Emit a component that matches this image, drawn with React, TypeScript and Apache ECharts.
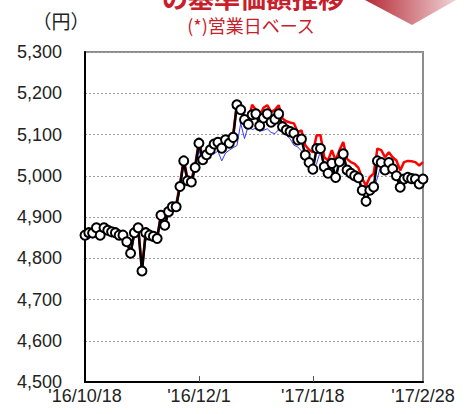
import React, { useEffect, useRef } from "react";
import * as echarts from "echarts";

const dates: string[] = [
  "'16/10/18", "'16/10/19", "'16/10/20", "'16/10/21", "'16/10/24", "'16/10/25", "'16/10/26", "'16/10/27", "'16/10/28", "'16/10/31",
  "'16/11/1", "'16/11/2", "'16/11/4", "'16/11/7", "'16/11/8", "'16/11/9", "'16/11/10", "'16/11/11", "'16/11/14", "'16/11/15",
  "'16/11/16", "'16/11/17", "'16/11/18", "'16/11/21", "'16/11/22", "'16/11/24", "'16/11/25", "'16/11/28", "'16/11/29", "'16/11/30",
  "'16/12/1", "'16/12/2", "'16/12/5", "'16/12/6", "'16/12/7", "'16/12/8", "'16/12/9", "'16/12/12", "'16/12/13", "'16/12/14",
  "'16/12/15", "'16/12/16", "'16/12/19", "'16/12/20", "'16/12/21", "'16/12/22", "'16/12/26", "'16/12/27", "'16/12/28", "'16/12/29",
  "'16/12/30", "'17/1/4", "'17/1/5", "'17/1/6", "'17/1/10", "'17/1/11", "'17/1/12", "'17/1/13", "'17/1/16", "'17/1/17",
  "'17/1/18", "'17/1/19", "'17/1/20", "'17/1/23", "'17/1/24", "'17/1/25", "'17/1/26", "'17/1/27", "'17/1/30", "'17/1/31",
  "'17/2/1", "'17/2/2", "'17/2/3", "'17/2/6", "'17/2/7", "'17/2/8", "'17/2/9", "'17/2/10", "'17/2/13", "'17/2/14",
  "'17/2/15", "'17/2/16", "'17/2/17", "'17/2/20", "'17/2/21", "'17/2/22", "'17/2/23", "'17/2/24", "'17/2/27", "'17/2/28",
];

const tickLabels: string[] = ["'16/10/18", "'16/12/1", "'17/1/18", "'17/2/28"];

const basePrice: number[] = [
  4856, 4862, 4861, 4874, 4856, 4874, 4868, 4864, 4862, 4856,
  4856, 4840, 4812, 4862, 4874, 4769, 4862, 4856, 4853, 4848,
  4904, 4880, 4913, 4925, 4925, 4974, 5036, 4988, 4985, 5020,
  5079, 5039, 5051, 5063, 5077, 5081, 5067, 5087, 5079, 5093,
  5172, 5160, 5136, 5125, 5148, 5150, 5121, 5140, 5150, 5130,
  5137, 5150, 5119, 5111, 5107, 5103, 5087, 5089, 5050, 5032,
  5016, 5066, 5066, 5022, 5006, 5030, 4996, 5034, 5053, 5014,
  5006, 5000, 4995, 4965, 4938, 4965, 4973, 5036, 5032, 5014,
  5032, 5017, 5000, 4972, 4992, 4996, 4993, 4992, 4980, 4992,
];

const redSeries: number[] = [
  4858, 4864, 4863, 4876, 4858, 4876, 4870, 4866, 4864, 4858,
  4858, 4842, 4814, 4864, 4876, 4771, 4864, 4858, 4855, 4850,
  4906, 4884, 4917, 4929, 4930, 4980, 5040, 4993, 4990, 5025,
  5084, 5044, 5056, 5068, 5082, 5086, 5072, 5092, 5085, 5099,
  5176, 5165, 5142, 5132, 5172, 5160, 5145, 5165, 5171, 5155,
  5160, 5171, 5139, 5132, 5129, 5127, 5106, 5110, 5074, 5063,
  5057, 5098, 5098, 5045, 5037, 5062, 5037, 5062, 5082, 5041,
  5033, 5029, 5019, 4993, 4976, 4997, 5005, 5066, 5062, 5045,
  5057, 5045, 5037, 5013, 5033, 5036, 5035, 5033, 5025, 5033,
];

const blueSeries: number[] = [
  4850, 4846, 4855, 4866, 4850, 4868, 4862, 4860, 4858, 4862,
  4852, 4836, 4810, 4855, 4868, 4772, 4843, 4850, 4848, 4845,
  4895, 4873, 4905, 4915, 4918, 4965, 5025, 4980, 4978, 5010,
  5062, 5030, 5040, 5048, 5053, 5060, 5036, 5055, 5062, 5068,
  5073, 5127, 5090, 5121, 5112, 5115, 5108, 5110, 5114, 5105,
  5102, 5112, 5106, 5098, 5090, 5074, 5070, 5060, 5049, 5030,
  5012, 5030, 5060, 5015, 5000, 5022, 4990, 5028, 5045, 5008,
  5000, 4995, 4990, 4960, 4932, 4958, 4968, 4995, 5028, 5010,
  5028, 5012, 4996, 4968, 4988, 4992, 4989, 4988, 4976, 4988,
];

const titleText = "の基準価額推移";
const subTitleText = "(*)営業日ベース";
const unitText = "（円）";

export default function App() {
  const ref = useRef<HTMLDivElement>(null);

  useEffect(() => {
    if (!ref.current) return;
    const chart = echarts.init(ref.current, undefined, { renderer: "svg" });
    const showLabel = (_i: number, v: string) => tickLabels.indexOf(v) >= 0;
    const showTick = (_i: number, v: string) =>
      tickLabels.indexOf(v) > 0 && tickLabels.indexOf(v) < tickLabels.length - 1;
    chart.setOption({
      animation: false,
      backgroundColor: "#fff",
      grid: {
        left: 85,
        right: 52,
        top: 52,
        bottom: 32,
        show: true,
        borderColor: "#8c8c8c",
        borderWidth: 2,
        backgroundColor: "transparent",
      },
      xAxis: {
        type: "category",
        data: dates,
        boundaryGap: false,
        axisLine: { show: true, lineStyle: { color: "#000", width: 2 } },
        axisTick: { show: true, inside: true, length: 6, interval: showTick, lineStyle: { color: "#555", width: 1 } },
        axisLabel: {
          interval: showLabel,
          showMinLabel: true,
          showMaxLabel: true,
          margin: 5,
          color: "#222",
          fontSize: 18,
          fontFamily: "Liberation Sans",
        },
        splitLine: { show: false },
      },
      yAxis: {
        type: "value",
        min: 4500,
        max: 5300,
        interval: 100,
        axisLine: { show: true, lineStyle: { color: "#000", width: 2 } },
        axisTick: { show: false },
        axisLabel: {
          margin: 23,
          color: "#222",
          fontSize: 18,
          fontFamily: "Liberation Sans",
          formatter: (v: number) => v.toLocaleString("en-US"),
        },
        splitLine: { show: true, lineStyle: { color: "#a0a0a0", width: 1, type: [2, 2] } },
      },
      series: [
        {
          type: "line",
          data: blueSeries,
          showSymbol: false,
          z: 1,
          lineStyle: { color: "#3a3aff", width: 1 },
        },
        {
          type: "line",
          data: redSeries,
          showSymbol: false,
          z: 2,
          lineStyle: { color: "#ff0000", width: 2.5 },
        },
        {
          type: "line",
          data: basePrice,
          z: 3,
          symbol: "circle",
          symbolSize: 9,
          showAllSymbol: true,
          lineStyle: { color: "#000", width: 2.5 },
          itemStyle: { color: "#fff", borderColor: "#000", borderWidth: 2 },
        },
      ],
      graphic: [
        {
          type: "polygon",
          shape: { points: [[365, 0], [456, 0], [412, 25]] },
          style: {
            fill: new echarts.graphic.LinearGradient(0, 0, 1, 0, [
              { offset: 0, color: "#b52a35" },
              { offset: 1, color: "#f0d2d6" },
            ]),
          },
        },
        {
          type: "text",
          x: 253,
          y: -4,
          style: {
            text: titleText,
            fill: "#c8202a",
            fontSize: 26,
            fontWeight: "bold",
            fontFamily: "Noto Sans CJK JP",
            textAlign: "center",
            textVerticalAlign: "middle",
          },
        },
        {
          type: "text",
          x: 251,
          y: 25,
          style: {
            text: subTitleText,
            fill: "#c8202a",
            fontSize: 18,
            fontFamily: "Noto Sans CJK JP",
            textAlign: "center",
            textVerticalAlign: "middle",
          },
        },
        {
          type: "text",
          x: 61,
          y: 20,
          style: {
            text: unitText,
            fill: "#222",
            fontSize: 19,
            fontFamily: "Noto Sans CJK JP",
            textAlign: "center",
            textVerticalAlign: "middle",
          },
        },
      ],
    });
    return () => chart.dispose();
  }, []);

  return (
    <div
      ref={ref}
      style={{ position: "fixed", left: 0, top: 0, width: 475, height: 414 }}
    />
  );
}
